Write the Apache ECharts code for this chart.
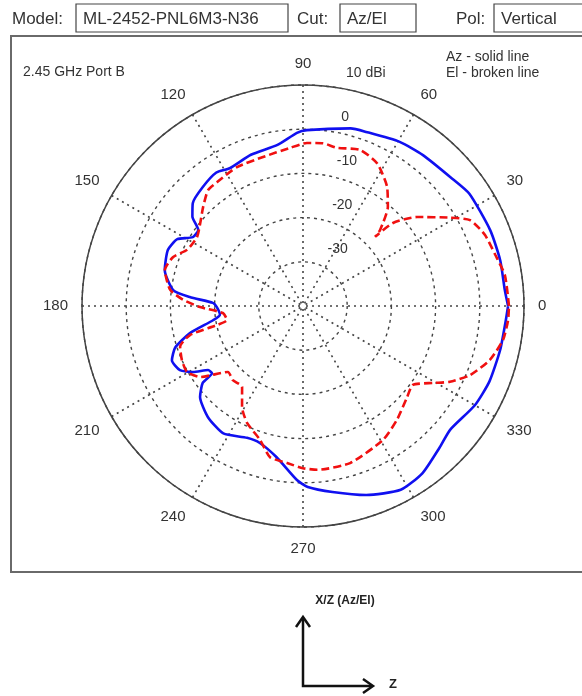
<!DOCTYPE html>
<html>
<head>
<meta charset="utf-8">
<script src="https://cdn.jsdelivr.net/npm/echarts@6/dist/echarts.min.js"></script>
<style>
  html, body { margin: 0; padding: 0; background: #fff; }
  #chart { width: 582px; height: 696px; }
</style>
</head>
<body>
<div id="chart"></div>
<script>
// Az cut (solid blue): angle in degrees, gain in dBi
var azAngle = [0, 4.5, 13, 22, 34, 41, 51.5, 59.5, 70, 75, 88.7, 92, 99, 109, 118, 123, 130, 137, 141, 144,
    148, 152, 157.5, 165.5, 173, 175.5, 178, 180.7, 186, 189, 193.5, 198, 202.5, 207.5, 211, 214, 216.5, 217.5,
    221.5, 229.5, 238, 247, 252.5, 260, 268, 271.5, 279, 288.5, 298, 305.5, 314, 320, 330, 338, 347.5, 356, 360];
var azGain = [6.4, 5.8, 5.8, 5.7, 5.4, 4.3, 3.6, 3.1, 1.9, 1.6, -0.2, -0.8, -3.1, -3.8, -4.7, -4.0, -4.8, -5.9, -7.8, -10.7,
    -10.6, -7.8, -6.9, -7.7, -10.4, -14.3, -19.6, -20.5, -21.1, -19.4, -13.7, -9.6, -7.9, -8.6, -11.0, -14.1, -14.4, -11.4,
    -8.9, -6.9, -6.0, -7.6, -7.5, -5.3, -0.6, 0.95, 2.6, 5.1, 7.1, 6.5, 4.5, 3.5, 4.9, 5.5, 5.7, 6.0, 6.4];

// El cut (broken red)
var elAngle = [0, 8.7, 15, 21.3, 27.2, 31, 38, 42.7, 43.8, 44.6, 49.4, 54.8, 62.6, 70, 78, 83, 88.6, 94.7, 105, 115.4,
    124.7, 129.3, 135.3, 141, 147, 154, 159.3, 165.4, 173, 177, 180.6, 185, 190.4, 192.5, 194.4, 198.4, 204, 209.6,
    214.6, 221.3, 226.6, 233, 238.9, 244.4, 252.2, 257.7, 264.2, 270, 275, 286.7, 300.8, 309.5, 318.8, 324.3, 329.4,
    332.7, 337.5, 343.9, 350.4, 356, 360];
var elGain = [6.6, 6.2, 5.0, 4.2, 2.5, -1.2, -7.3, -12.3, -17.4, -15.5, -10.5, -7.0, -3.6, -2.4, -3.4, -2.9, -3.1, -4.1, -5.1, -5.2,
    -5.9, -6.1, -8.2, -10.1, -11.4, -10.9, -8.6, -7.7, -9.7, -12.8, -16.7, -21.8, -22.5, -20.1, -13.6, -10.7, -10.0, -9.8,
    -11.7, -17.4, -16.9, -17.1, -13.3, -10.7, -8.2, -5.0, -4.3, -3.3, -2.8, -2.9, -4.7, -6.6, -8.7, -9.4, -5.8,
    -2.6, 0.9, 4.0, 5.9, 6.5, 6.6];

var angleLabels = ['0', '30', '60', '90', '120', '150', '180', '210', '240', '270', '300', '330'];
var ringValues = [-40, -30, -20, -10, 0, 10];
var ringLabels = ['', '-30', '-20', '-10', '0', '10 dBi'];

var chart = echarts.init(document.getElementById('chart'));

var font = '"Liberation Sans", Arial, sans-serif';
var gridColor = '#444';

var azData = azAngle.map(function (a, i) { return [azGain[i], a]; });
var elData = elAngle.map(function (a, i) { return [elGain[i], a]; });

function headerBox(x, w, label) {
    return [
        { type: 'rect', shape: { x: x, y: 4, width: w, height: 28 },
          style: { fill: '#fff', stroke: '#444', lineWidth: 1.2 } },
        { type: 'text', x: x + 7, y: 19,
          style: { text: label, font: '17px ' + font, fill: '#333', verticalAlign: 'middle' } }
    ];
}

var graphics = [
    { type: 'rect', z: -10, shape: { x: 11, y: 36, width: 600, height: 536 },
      style: { fill: 'none', stroke: '#6a6a6a', lineWidth: 2 } },
    { type: 'text', x: 12, y: 19, style: { text: 'Model:', font: '17px ' + font, fill: '#333', verticalAlign: 'middle' } },
    { type: 'text', x: 297, y: 19, style: { text: 'Cut:', font: '17px ' + font, fill: '#333', verticalAlign: 'middle' } },
    { type: 'text', x: 456, y: 19, style: { text: 'Pol:', font: '17px ' + font, fill: '#333', verticalAlign: 'middle' } },
    { type: 'text', x: 23, y: 72, style: { text: '2.45 GHz Port B', font: '14px ' + font, fill: '#333', verticalAlign: 'middle' } },
    { type: 'text', x: 446, y: 57, style: { text: 'Az - solid line', font: '14px ' + font, fill: '#333', verticalAlign: 'middle' } },
    { type: 'text', x: 446, y: 73, style: { text: 'El - broken line', font: '14px ' + font, fill: '#333', verticalAlign: 'middle' } },
    // coordinate sketch below the plot
    { type: 'text', x: 345, y: 601, style: { text: 'X/Z (Az/El)', font: 'bold 12px ' + font, fill: '#222', align: 'center', verticalAlign: 'middle' } },
    { type: 'polyline', shape: { points: [[303, 618], [303, 686], [372, 686]] }, style: { stroke: '#111', lineWidth: 2.5, fill: 'none' } },
    { type: 'polyline', shape: { points: [[296, 627], [303, 617], [310, 627]] }, style: { stroke: '#111', lineWidth: 2.5, fill: 'none' } },
    { type: 'polyline', shape: { points: [[363, 679], [373, 686], [363, 693]] }, style: { stroke: '#111', lineWidth: 2.5, fill: 'none' } },
    { type: 'text', x: 389, y: 684, style: { text: 'Z', font: 'bold 13px ' + font, fill: '#222', verticalAlign: 'middle' } }
].concat(headerBox(76, 212, 'ML-2452-PNL6M3-N36'))
 .concat(headerBox(340, 76, 'Az/El'))
 .concat(headerBox(494, 100, 'Vertical'));

var option = {
    backgroundColor: '#fff',
    animation: false,
    polar: [
        { center: [303, 306], radius: 221 },
        { center: [303, 306], radius: 221 }
    ],
    angleAxis: [
        {
            polarIndex: 0,
            type: 'value',
            min: 0,
            max: 360,
            interval: 30,
            startAngle: 0,
            clockwise: false,
            axisLine: { lineStyle: { color: '#444', width: 1.5 } },
            axisTick: { show: false },
            axisLabel: {
                margin: 14,
                color: '#333',
                fontSize: 15,
                fontFamily: font,
                formatter: function (v) { return angleLabels[Math.round(v / 30)] || ''; }
            },
            splitLine: { lineStyle: { color: gridColor, type: [2, 4], width: 1.6 } }
        },
        {
            polarIndex: 1,
            type: 'value',
            min: 0,
            max: 360,
            startAngle: 84,
            clockwise: false,
            axisLine: { show: false },
            axisTick: { show: false },
            axisLabel: { show: false },
            splitLine: { show: false }
        }
    ],
    radiusAxis: [
        {
            polarIndex: 0,
            type: 'value',
            min: -40,
            max: 10,
            interval: 10,
            axisLine: { show: false },
            axisTick: { show: false },
            axisLabel: { show: false },
            splitLine: { lineStyle: { color: gridColor, type: [3, 4], width: 1.4 } }
        },
        {
            polarIndex: 1,
            type: 'value',
            min: -40,
            max: 10,
            interval: 10,
            axisLine: { show: false },
            axisTick: { show: false },
            splitLine: { show: false },
            axisLabel: {
                margin: -20,
                align: 'left',
                verticalAlign: 'bottom',
                padding: [0, 0, 8, 0],
                color: '#333',
                fontSize: 14,
                fontFamily: font,
                formatter: function (v) { return ringLabels[ringValues.indexOf(v)] || ''; }
            }
        }
    ],
    series: [
        {
            name: 'Az',
            type: 'line',
            coordinateSystem: 'polar',
            polarIndex: 0,
            data: azData,
            symbol: 'none',
            smooth: 0.2,
            lineStyle: { color: '#1010f0', width: 2.6 },
            z: 3
        },
        {
            name: 'El',
            type: 'line',
            coordinateSystem: 'polar',
            polarIndex: 0,
            data: elData,
            symbol: 'none',
            smooth: 0.2,
            lineStyle: { color: '#f01010', width: 2.6, type: [8, 4] },
            z: 4
        }
    ],
    graphic: graphics
};

chart.setOption(option);
</script>
</body>
</html>
